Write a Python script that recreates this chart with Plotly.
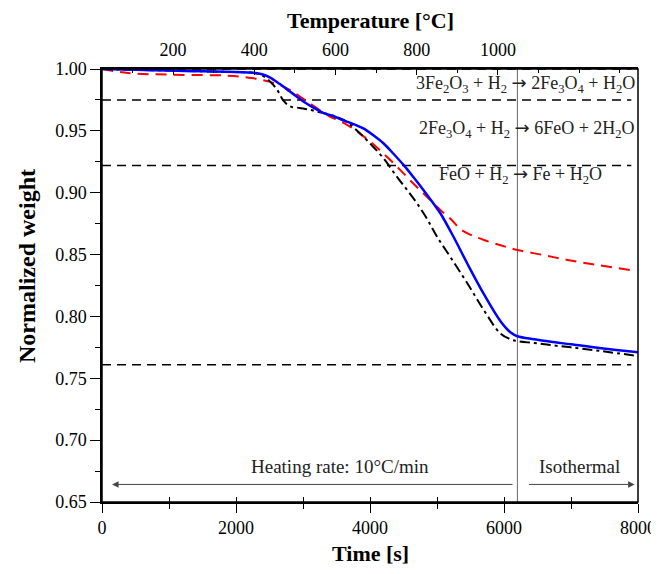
import plotly.graph_objects as go

# ---- data ----
t_blue = [0, 500, 1000, 1500, 2000, 2250, 2400, 2510, 2650, 2800, 2900, 3000, 3150, 3300, 3450, 3600,
          3750, 3900, 4050, 4200, 4350, 4500, 4650, 4800, 4950, 5050, 5250, 5450, 5700, 5950, 6100, 6200,
          6450, 6700, 7000, 7450, 8000]
w_blue = [1.000, 0.9993, 0.9988, 0.9981, 0.9975, 0.9970, 0.9955, 0.9930, 0.9880, 0.9820, 0.9780, 0.9740,
          0.9690, 0.9646, 0.9620, 0.9585, 0.9555, 0.9520, 0.9465, 0.9400, 0.9315, 0.9225, 0.9125, 0.9020,
          0.8910, 0.8834, 0.8640, 0.8430, 0.8180, 0.7960, 0.7870, 0.7840, 0.7815, 0.7795, 0.7775, 0.7743,
          0.7710]

t_red = [0, 390, 1060, 1880, 2234, 2478, 2700, 2880, 3000, 3150, 3300, 3400, 3550, 3700, 3850, 4000,
         4150, 4300, 4450, 4600, 4750, 4900, 5050, 5200, 5350, 5500, 5700, 5950, 6200, 6600, 6950, 7400,
         7880]
w_red = [1.000, 0.9967, 0.9954, 0.9946, 0.9927, 0.9900, 0.9860, 0.9806, 0.9760, 0.9705, 0.9650, 0.9616,
         0.9580, 0.9535, 0.9478, 0.9414, 0.9342, 0.9266, 0.9185, 0.9100, 0.9020, 0.8940, 0.8860, 0.8790,
         0.8705, 0.8660, 0.8618, 0.8575, 0.8537, 0.8495, 0.8456, 0.8415, 0.8375]

t_black = [0, 500, 1000, 1500, 2000, 2250, 2400, 2560, 2650, 2700, 2800, 2950, 3100, 3250, 3400, 3600,
           3750, 3900, 4050, 4200, 4400, 4550, 4700, 4850, 5000, 5200, 5450, 5700, 5950, 6100, 6200, 6450,
           6700, 7000, 7450, 8000]
w_black = [1.000, 0.9993, 0.9988, 0.9981, 0.9975, 0.9970, 0.9945, 0.9870, 0.9800, 0.9750, 0.9700, 0.9685,
           0.9670, 0.9650, 0.9630, 0.9590, 0.9530, 0.9454, 0.9370, 0.9280, 0.9130, 0.9025, 0.8915, 0.8790,
           0.8645, 0.8480, 0.8270, 0.8050, 0.7860, 0.7815, 0.7800, 0.7785, 0.7768, 0.7750, 0.7720, 0.7680]

# theoretical reduction-step levels
step_levels = [1.000, 0.975, 0.922, 0.761]
step_t = [0, 7900]

isothermal_start = 6200
temp_range = [25, 1345]          # temperature matching time 0..8000 s
temp_ticks = [200, 400, 600, 800, 1000]
time_ticks = [0, 2000, 4000, 6000, 8000]

ARROW = '<span style="font-family:DejaVu Sans">→</span>'
reactions = [
    ("3Fe<sub>2</sub>O<sub>3</sub> + H<sub>2</sub> " + ARROW + " 2Fe<sub>3</sub>O<sub>4</sub> + H<sub>2</sub>O", 0.9875),
    ("2Fe<sub>3</sub>O<sub>4</sub> + H<sub>2</sub> " + ARROW + " 6FeO + 2H<sub>2</sub>O", 0.9515),
    ("FeO + H<sub>2</sub> " + ARROW + " Fe + H<sub>2</sub>O", 0.9145),
]

FONT = "Liberation Serif"

fig = go.Figure()

for lvl in step_levels:
    fig.add_trace(go.Scatter(x=step_t, y=[lvl, lvl], mode="lines",
                             line=dict(color="black", width=1.5, dash="9px,6px"),
                             showlegend=False, hoverinfo="skip"))

fig.add_trace(go.Scatter(x=[isothermal_start, isothermal_start], y=[0.65, 1.0], mode="lines",
                         line=dict(color="#666666", width=1), showlegend=False, hoverinfo="skip"))

fig.add_trace(go.Scatter(x=t_red, y=w_red, mode="lines", line=dict(color="#ff0000", width=2, dash="11px,7px"),
                         line_shape="spline", showlegend=False))
fig.add_trace(go.Scatter(x=t_black, y=w_black, mode="lines",
                         line=dict(color="black", width=2, dash="10px,4px,3px,4px"),
                         line_shape="spline", showlegend=False))
fig.add_trace(go.Scatter(x=t_blue, y=w_blue, mode="lines", line=dict(color="#0000ff", width=2.5),
                         line_shape="spline", showlegend=False))

# dummy traces for the extra axes
fig.add_trace(go.Scatter(x=temp_range, y=[None, None], xaxis="x2", mode="lines", showlegend=False,
                         hoverinfo="skip"))
fig.add_trace(go.Scatter(x=[None], y=[None], xaxis="x3", showlegend=False, hoverinfo="skip"))

tickfont = dict(family=FONT, size=18, color="black")
titlefont = dict(family=FONT, size=22, color="black", weight="bold")

# the page body adds an 8px offset, so the figure is 8px smaller than the window
fig.update_layout(
    width=651, height=566,
    margin=dict(l=94, r=21, t=61, b=72),
    plot_bgcolor="white", paper_bgcolor="white",
    xaxis=dict(range=[0, 8000], tickvals=time_ticks, ticks="outside", ticklen=9,
               tickwidth=1.3, tickcolor="black",
               minor=dict(dtick=1000, ticks="outside", ticklen=5, tickcolor="black"),
               showline=True, linecolor="black", linewidth=1.5, showgrid=False, zeroline=False,
               tickfont=tickfont, automargin=False),
    xaxis3=dict(range=[0, 8000], overlaying="x", side="bottom", anchor="y", dtick=1000, ticks="inside",
                ticklen=5, tickcolor="black", showticklabels=False, showgrid=False, zeroline=False,
                automargin=False),
    xaxis2=dict(range=temp_range, overlaying="x", side="top", anchor="y",
                tickvals=temp_ticks, ticks="inside", ticklen=6, tickcolor="black", ticklabelstandoff=4,
                minor=dict(tickvals=[100, 300, 500, 700, 900, 1100, 1200, 1300], ticks="inside", ticklen=4,
                           tickcolor="black"),
                showline=True, linecolor="black", linewidth=1.5, showgrid=False, zeroline=False,
                tickfont=tickfont, automargin=False),
    yaxis=dict(range=[0.65, 1.0], dtick=0.05, tickformat=".2f", ticks="outside", ticklen=10, tickwidth=1.3,
               tickcolor="black", minor=dict(dtick=0.025, ticks="outside", ticklen=5, tickcolor="black"),
               showline=True, linecolor="black", linewidth=1.5, showgrid=False, zeroline=False,
               tickfont=tickfont, automargin=False),
    shapes=[dict(type="rect", xref="paper", yref="paper", x0=0, x1=1, y0=0, y1=1,
                 line=dict(color="black", width=1.5), layer="above")],
)

# axis titles
fig.add_annotation(x=0.5, y=1.113, xref="paper", yref="paper", text="<b>Temperature [°C]</b>",
                   showarrow=False, font=titlefont, xanchor="center", yanchor="middle")
fig.add_annotation(x=0.5, y=-0.118, xref="paper", yref="paper", text="<b>Time [s]</b>",
                   showarrow=False, font=titlefont, xanchor="center", yanchor="middle")
fig.add_annotation(x=-0.14, y=0.545, xref="paper", yref="paper", text="<b>Normalized weight</b>",
                   showarrow=False, font=dict(family=FONT, size=24, color="black", weight="bold"),
                   textangle=-90, xanchor="center", yanchor="middle")

for i, (txt, y) in enumerate(reactions):
    if i < 2:
        fig.add_annotation(x=7980, y=y, xref="x", yref="y", text=txt, showarrow=False, xanchor="right",
                           yanchor="middle", font=dict(family=FONT, size=18, color="#222222"))
    else:
        fig.add_annotation(x=6250, y=y, xref="x", yref="y", text=txt, showarrow=False, xanchor="center",
                           yanchor="middle", font=dict(family=FONT, size=18, color="#222222"))

# heating / isothermal arrows
fig.add_annotation(x=150, y=0.6642, ax=6150, ay=0.6642, xref="x", yref="y", axref="x", ayref="y",
                   text="", showarrow=True, arrowhead=2, arrowsize=1.3, arrowwidth=1, arrowcolor="#444444")
fig.add_annotation(x=7950, y=0.6642, ax=6350, ay=0.6642, xref="x", yref="y", axref="x", ayref="y",
                   text="", showarrow=True, arrowhead=2, arrowsize=1.3, arrowwidth=1, arrowcolor="#444444")
fig.add_annotation(x=3550, y=0.679, xref="x", yref="y", text="Heating rate: 10°C/min", showarrow=False,
                   font=dict(family=FONT, size=19, color="#222222"))
fig.add_annotation(x=7130, y=0.679, xref="x", yref="y", text="Isothermal", showarrow=False,
                   font=dict(family=FONT, size=19, color="#222222"))

fig.write_html("out.html")
